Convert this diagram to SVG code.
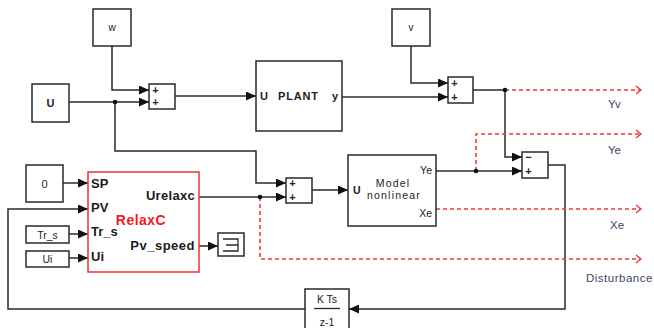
<svg xmlns="http://www.w3.org/2000/svg" width="654" height="328" viewBox="0 0 654 328">
<defs>
<style>
.blk{fill:#fff;stroke:#2a2a2a;stroke-width:1.5}
.red{fill:#fff;stroke:#f03030;stroke-width:1.5}
.ln{fill:none;stroke:#2a2a2a;stroke-width:1.5}
.dash{fill:none;stroke:#f03838;stroke-width:1.6;stroke-dasharray:4 3}
.t{font-family:"Liberation Sans",Arial,sans-serif;fill:#222}
.pb{font-family:"Liberation Sans",Arial,sans-serif;font-weight:bold;font-size:13px;fill:#1a1a1a}
.sg{font-family:"Liberation Sans",Arial,sans-serif;font-size:11px;font-weight:bold;fill:#222}
.lab{font-family:"Liberation Sans",Arial,sans-serif;font-size:11.5px;fill:#3c4660}
</style>
<marker id="ar" markerWidth="11" markerHeight="9" refX="10" refY="4.5" orient="auto" markerUnits="userSpaceOnUse">
<path d="M0,0 L10,4.5 L0,9 Z" fill="#111"/>
</marker>
<marker id="oa" markerWidth="10" markerHeight="10" refX="6" refY="5" orient="auto" markerUnits="userSpaceOnUse">
<path d="M1,1 L6,5 L1,9" fill="none" stroke="#f03838" stroke-width="1.4"/>
</marker>
</defs>
<rect width="654" height="328" fill="#fff"/>

<g id="connectors">
<path class="ln" d="M112,46 V90 H149" marker-end="url(#ar)"/>
<path class="ln" d="M69,102 H149" marker-end="url(#ar)"/>
<path class="ln" d="M115,102 V151 H256 V183 H286" marker-end="url(#ar)"/>
<path class="ln" d="M175,96 H256" marker-end="url(#ar)"/>
<path class="ln" d="M342,97 H448" marker-end="url(#ar)"/>
<path class="ln" d="M411,46 V83 H448" marker-end="url(#ar)"/>
<path class="ln" d="M473,90 H505 V157 H522" marker-end="url(#ar)"/>
<path class="ln" d="M436,171 H522" marker-end="url(#ar)"/>
<path class="ln" d="M312,190 H348" marker-end="url(#ar)"/>
<path class="ln" d="M63,183 H88" marker-end="url(#ar)"/>
<path class="ln" d="M69,234 H88" marker-end="url(#ar)"/>
<path class="ln" d="M69,258 H88" marker-end="url(#ar)"/>
<path class="ln" d="M305,309 H8 V209 H88" marker-end="url(#ar)"/>
<path class="ln" d="M199,197 H286" marker-end="url(#ar)"/>
<path class="ln" d="M199,246 H218" marker-end="url(#ar)"/>
<path class="ln" d="M548,165 H565 V309 H349" marker-end="url(#ar)"/>
<path class="dash" d="M505,90 H641" marker-end="url(#oa)"/>
<path class="dash" d="M476,171 V134 H641" marker-end="url(#oa)"/>
<path class="dash" d="M436,209 H641" marker-end="url(#oa)"/>
<path class="dash" d="M260,197 V259 H641" marker-end="url(#oa)"/>
<circle cx="115" cy="102" r="2.3" fill="#111"/>
<circle cx="505" cy="90" r="2.3" fill="#111"/>
<circle cx="476" cy="171" r="2.3" fill="#111"/>
<circle cx="260" cy="197" r="2.3" fill="#111"/>
</g>

<g id="w">
<rect class="blk" x="93" y="9" width="38" height="37"/>
<text class="t" x="112" y="31" font-size="10" text-anchor="middle">w</text>
</g>
<g id="v">
<rect class="blk" x="392" y="9" width="38" height="37"/>
<text class="t" x="411" y="31" font-size="10" text-anchor="middle">v</text>
</g>
<g id="U">
<rect class="blk" x="32" y="84" width="37" height="38"/>
<text class="t" x="50.5" y="107" font-size="11" font-weight="bold" text-anchor="middle">U</text>
</g>
<g id="sum1">
<rect class="blk" x="149" y="84" width="26" height="25"/>
<text class="sg" x="155.5" y="94" text-anchor="middle">+</text>
<text class="sg" x="155.5" y="106" text-anchor="middle">+</text>
</g>
<g id="plant">
<rect class="blk" x="256" y="61" width="86" height="70"/>
<text class="t" x="260" y="100" font-size="11" font-weight="bold" letter-spacing="0.6">U</text>
<text class="t" x="278" y="100" font-size="11" font-weight="bold" letter-spacing="0.8">PLANT</text>
<text class="t" x="332" y="100" font-size="11" font-weight="bold">y</text>
</g>
<g id="sum3">
<rect class="blk" x="448" y="77" width="25" height="26"/>
<text class="sg" x="454.5" y="87" text-anchor="middle">+</text>
<text class="sg" x="454.5" y="101" text-anchor="middle">+</text>
</g>
<g id="sum4">
<rect class="blk" x="522" y="152" width="26" height="26"/>
<text class="sg" x="528.5" y="161" text-anchor="middle">−</text>
<text class="sg" x="528.5" y="175" text-anchor="middle">+</text>
</g>
<g id="sum2">
<rect class="blk" x="286" y="178" width="26" height="25"/>
<text class="sg" x="292.5" y="187" text-anchor="middle">+</text>
<text class="sg" x="292.5" y="201" text-anchor="middle">+</text>
</g>
<g id="model">
<rect class="blk" x="348" y="155" width="88" height="71"/>
<text class="t" x="353" y="194" font-size="10.5" font-weight="bold">U</text>
<text class="t" x="393" y="187" font-size="10.5" text-anchor="middle" letter-spacing="1.2">Model</text>
<text class="t" x="394" y="199" font-size="10.5" text-anchor="middle" letter-spacing="1.2">nonlinear</text>
<text class="t" x="432" y="174" font-size="10.5" text-anchor="end">Ye</text>
<text class="t" x="432" y="217" font-size="10.5" text-anchor="end">Xe</text>
</g>
<g id="zero">
<rect class="blk" x="26" y="165" width="37" height="37"/>
<text class="t" x="44.5" y="188" font-size="11" text-anchor="middle">0</text>
</g>
<g id="trs">
<rect class="blk" x="26" y="226" width="43" height="17"/>
<text class="t" x="47.5" y="238.5" font-size="10.5" text-anchor="middle">Tr_s</text>
</g>
<g id="ui">
<rect class="blk" x="26" y="251" width="43" height="16"/>
<text class="t" x="47.5" y="263" font-size="10.5" text-anchor="middle">Ui</text>
</g>
<g id="relaxc">
<rect class="red" x="88" y="172" width="111" height="100"/>
<text class="pb" x="91" y="188">SP</text>
<text class="pb" x="91" y="212">PV</text>
<text class="pb" x="91" y="236">Tr_s</text>
<text class="pb" x="91" y="261">Ui</text>
<text class="pb" x="195" y="200" text-anchor="end" letter-spacing="0.3">Urelaxc</text>
<text class="pb" x="195" y="250" text-anchor="end" font-size="13.5" letter-spacing="0.5">Pv_speed</text>
<text x="141" y="225" font-family="'Liberation Sans',Arial,sans-serif" font-weight="bold" font-size="14" letter-spacing="0.5" fill="#f02020" text-anchor="middle">RelaxC</text>
</g>
<g id="terminator">
<rect class="blk" x="218" y="233" width="26" height="23"/>
<path d="M223,239 H238 V251 H223 M226,245 H238" fill="none" stroke="#2a2a2a" stroke-width="1.3"/>
</g>
<g id="integrator">
<rect class="blk" x="305" y="289" width="44" height="50"/>
<text class="t" x="327" y="303" font-size="10.5" text-anchor="middle">K Ts</text>
<line x1="314" y1="308.5" x2="340" y2="308.5" stroke="#2a2a2a" stroke-width="1.3"/>
<text class="t" x="327" y="326" font-size="10.5" text-anchor="middle">z-1</text>
</g>
<g id="labels">
<text class="lab" x="608" y="108">Yv</text>
<text class="lab" x="608" y="154">Ye</text>
<text class="lab" x="610" y="229">Xe</text>
<text class="lab" x="586" y="282" letter-spacing="0.5">Disturbance</text>
</g>
</svg>
